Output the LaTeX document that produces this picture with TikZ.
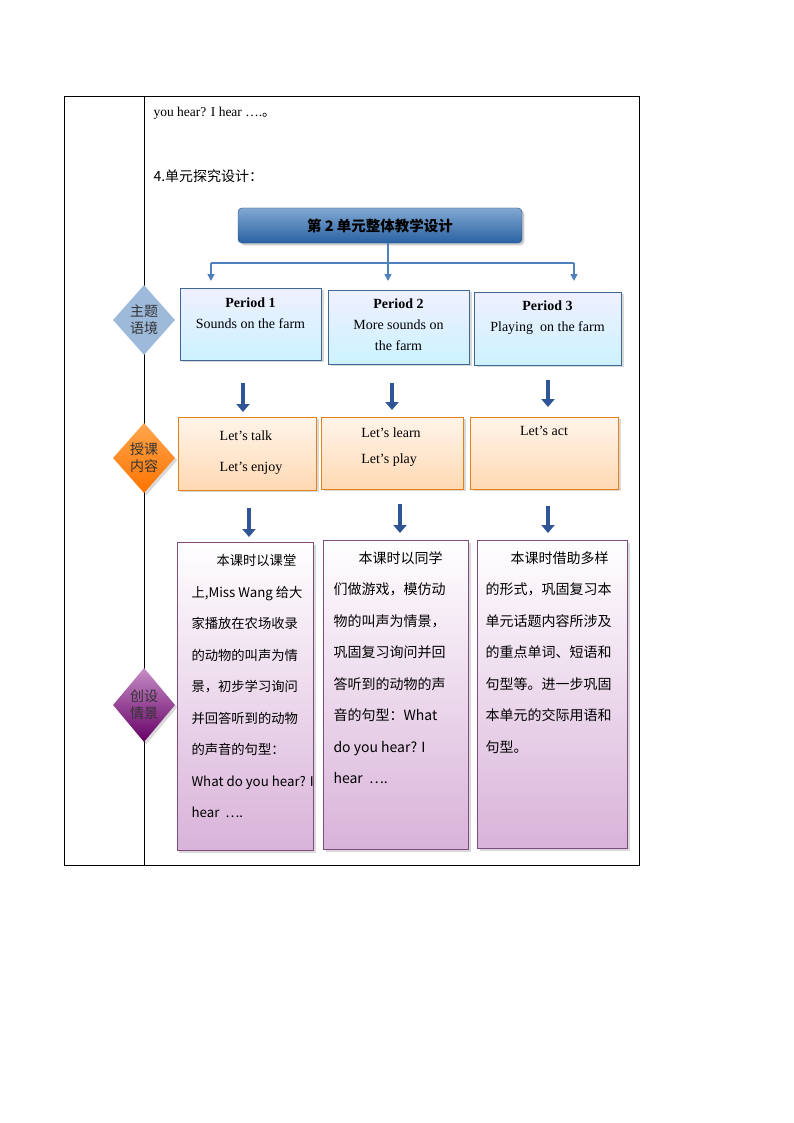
\documentclass[tikz,border=0pt]{standalone}
\usepackage{fontspec}
\setmainfont{Liberation Serif}
\newfontfamily\cjk{Noto Sans CJK SC}
\usetikzlibrary{arrows.meta,shapes.geometric,shadows}
\definecolor{titleblue}{HTML}{2E6DB4}
\definecolor{lineblue}{HTML}{4F81BD}
\definecolor{darkblue}{HTML}{2F5597}
\tikzset{
  period/.style={draw=lineblue!80!black,top color=blue!6,bottom color=blue!25!cyan!20,drop shadow={opacity=0.3},align=center,anchor=north west},
  lesson/.style={draw=orange!60!brown,top color=orange!8,bottom color=orange!30,drop shadow={opacity=0.3},align=center,anchor=north west},
  scene/.style={draw=violet!40!gray,top color=white,bottom color=violet!30,drop shadow={opacity=0.3},anchor=north west},
  tag/.style={diamond,minimum width=62pt,minimum height=70pt,inner sep=0pt,align=center,text=black!80,font=\cjk\fontsize{14}{17}\selectfont},
  blk/.style={darkblue,line width=4.5pt,-{Triangle[width=13pt,length=8pt]}},
  thin/.style={lineblue,line width=1.5pt,-{Triangle[width=7pt,length=7pt]}}
}
\begin{document}
\begin{tikzpicture}[x=1pt,y=-1pt]
\useasboundingbox (0,0) rectangle (794,1123);
% table frame
\draw (64,96) rectangle (639,865);
\draw (144,96) -- (144,865);
\node[anchor=west,font=\fontsize{13.5}{15}\selectfont] (hear) at (150,113) {you hear? I hear \dots.{\cjk 。}};
\node[anchor=west,font=\cjk\fontsize{14}{15}\selectfont] (sec) at (150,176) {4.单元探究设计：};

% title
\node[draw=titleblue!70!black,rounded corners=4pt,top color=titleblue!60,bottom color=titleblue!90!black,
  minimum width=284pt,minimum height=35pt,drop shadow={opacity=0.4},font=\cjk\bfseries\fontsize{14.5}{16}\selectfont]
  (title) at (380,225.5) {第 2 单元整体教学设计};
\coordinate (fork) at (388,263);
\coordinate (f1) at (211,263);
\coordinate (f2) at (388,263);
\coordinate (f3) at (574,263);
\coordinate (t1) at (211,281);
\coordinate (t2) at (388,281);
\coordinate (t3) at (574,281);
\draw[lineblue,line width=1.5pt] (title.south -| fork) -- (fork);
\draw[lineblue,line width=1.5pt] (f1) -- (f3);
\draw[thin] (f1) -- (t1);
\draw[thin] (f2) -- (t2);
\draw[thin] (f3) -- (t3);

% periods
\node[period,minimum width=141pt,minimum height=72pt] (p1) at (180,288) {};
\node[period,minimum width=141pt,minimum height=74pt] (p2) at (328,290) {};
\node[period,minimum width=147pt,minimum height=73pt] (p3) at (474,292) {};
\node[font=\fontsize{14}{21}\selectfont,align=center,anchor=north] at (250.5,294) {\textbf{Period 1}\\Sounds on the farm};
\node[font=\fontsize{14}{21}\selectfont,align=center,anchor=north] at (398.5,295) {\textbf{Period 2}\\More sounds on\\the farm};
\node[font=\fontsize{14}{21}\selectfont,align=center,anchor=north] at (547.5,297) {\textbf{Period 3}\\Playing \ on the farm};

% lessons
\node[lesson,minimum width=138pt,minimum height=73pt] (l1) at (178,417) {};
\node[lesson,minimum width=142pt,minimum height=72pt] (l2) at (321,417) {};
\node[lesson,minimum width=148pt,minimum height=72pt] (l3) at (470,417) {};
\node[font=\fontsize{14}{31}\selectfont,align=left,anchor=north] at (251,427) {Let's talk\\Let's enjoy};
\node[font=\fontsize{14}{26}\selectfont,align=left,anchor=north] at (391,424) {Let's learn\\Let's play};
\node[font=\fontsize{14}{26}\selectfont,anchor=north] at (544,423) {Let's act};

\draw[blk] ([yshift=-23]p1.south -| 243,0) -- ([yshift=5]l1.north -| 243,0);
\draw[blk] ([yshift=-19]p2.south -| 392,0) -- ([yshift=7]l2.north -| 392,0);
\draw[blk] ([yshift=-15]p3.south -| 548,0) -- ([yshift=10]l3.north -| 548,0);

% scenes
\node[scene,minimum width=136pt,minimum height=308pt] (s1) at (177,542) {};
\node[scene,minimum width=145pt,minimum height=309pt] (s2) at (323,540) {};
\node[scene,minimum width=150pt,minimum height=308pt] (s3) at (477,540) {};
\node[anchor=north west,align=left,font=\cjk\fontsize{13.3}{31.5}\selectfont] at (188,551)
  {\hspace*{25pt}本课时以课堂\\上,Miss Wang 给大\\家播放在农场收录\\的动物的叫声为情\\景，初步学习询问\\并回答听到的动物\\的声音的句型：\\What do you hear? I\\hear \ \dots.};
\node[anchor=north west,align=left,font=\cjk\fontsize{14}{31.5}\selectfont] at (330,548)
  {\hspace*{25pt}本课时以同学\\们做游戏，模仿动\\物的叫声为情景，\\巩固复习询问并回\\答听到的动物的声\\音的句型：What\\do you hear? I\\hear \ \dots.};
\node[anchor=north west,align=left,font=\cjk\fontsize{14}{31.5}\selectfont] at (482,548)
  {\hspace*{25pt}本课时借助多样\\的形式，巩固复习本\\单元话题内容所涉及\\的重点单词、短语和\\句型等。进一步巩固\\本单元的交际用语和\\句型。};

\draw[blk] ([yshift=-18]l1.south -| 249,0) -- ([yshift=5]s1.north -| 249,0);
\draw[blk] ([yshift=-15]l2.south -| 400,0) -- ([yshift=7]s2.north -| 400,0);
\draw[blk] ([yshift=-17]l3.south -| 548,0) -- ([yshift=7]s3.north -| 548,0);

% side tags
\node[tag,fill=lineblue!55] (theme) at (144,320) {主题\\语境};
\node[tag,top color=orange!70,bottom color=orange!90!red,drop shadow={opacity=0.3}] (teach) at (144,458) {授课\\内容};
\node[tag,top color=violet!45,bottom color=violet!80!black,drop shadow={opacity=0.3},minimum height=74pt] (set) at (144,705) {创设\\情景};
\end{tikzpicture}
\end{document}
